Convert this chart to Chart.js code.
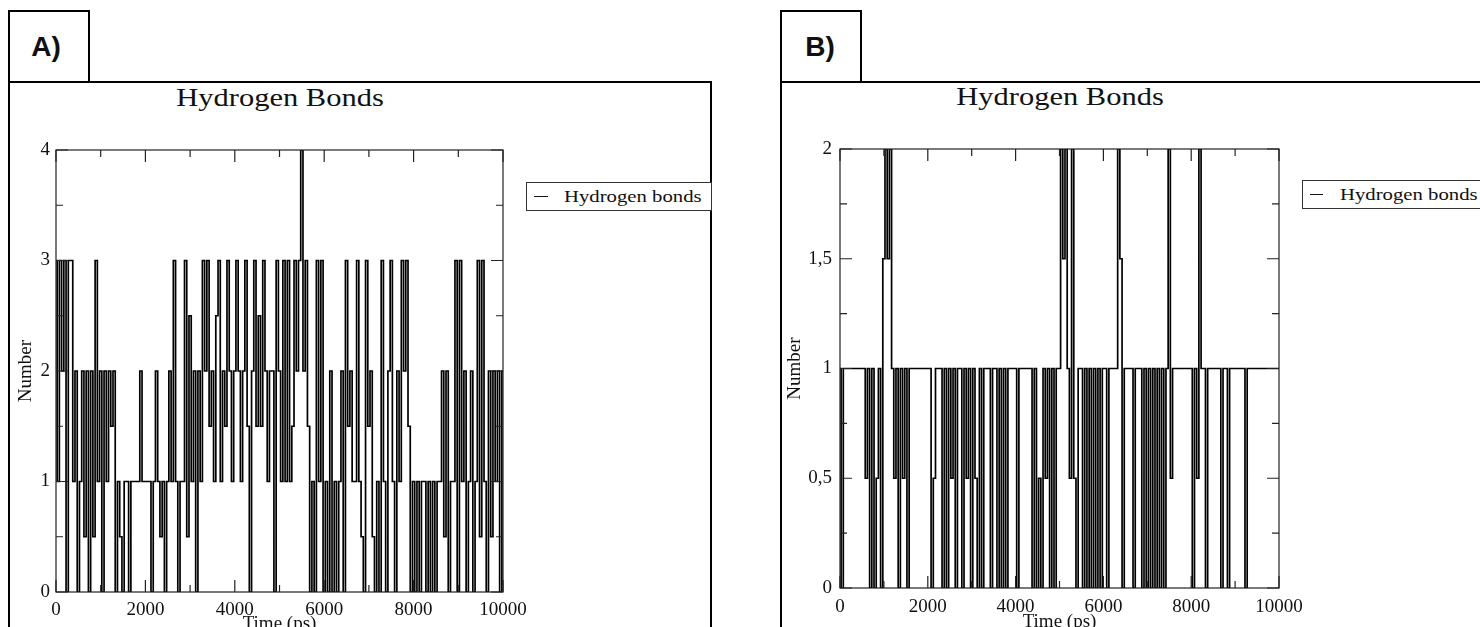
<!DOCTYPE html>
<html><head><meta charset="utf-8">
<script src="https://cdn.jsdelivr.net/npm/chart.js@4.4.1/dist/chart.umd.min.js"></script>
<style>
html,body{margin:0;padding:0;background:#fff;}
body{width:1480px;height:627px;overflow:hidden;position:relative;font-family:"Liberation Serif","Times New Roman",serif;color:#111;}
.frame{position:absolute;border:2px solid #000;box-sizing:border-box;}
.tag{position:absolute;border:2px solid #000;box-sizing:border-box;background:#fff;font-family:"Liberation Sans",Arial,sans-serif;font-weight:bold;font-size:28px;display:flex;align-items:center;justify-content:center;z-index:3;}
.title{position:absolute;font-size:25px;line-height:25px;white-space:nowrap;transform:translateX(-50%) scaleX(1.22);transform-origin:center;z-index:3;}
.legend{position:absolute;border:1px solid #333;box-sizing:border-box;background:#fff;z-index:3;}
.legline{position:absolute;height:0;border-top:1.5px solid #111;z-index:4;}
.legtext{position:absolute;font-size:17px;line-height:17px;white-space:nowrap;transform:scaleX(1.22);transform-origin:left center;z-index:4;}
canvas{position:absolute;z-index:2;}
</style></head>
<body>
<div class="frame" style="left:8px;top:81px;width:704px;height:700px"></div>
<div class="tag" style="left:8px;top:10px;width:82px;height:73px;padding-right:6px">A)</div>
<div class="title" style="left:280px;top:85px">Hydrogen Bonds</div>
<div class="legend" style="left:526px;top:182px;width:186px;height:29px"></div>
<div class="legline" style="left:534px;top:196px;width:14px"></div>
<div class="legtext" style="left:564px;top:188px">Hydrogen bonds</div>
<canvas id="cA" width="535" height="520" style="left:0px;top:120px"></canvas>

<div class="frame" style="left:780px;top:81px;width:760px;height:700px"></div>
<div class="tag" style="left:780px;top:10px;width:82px;height:73px;padding-right:2px">B)</div>
<div class="title" style="left:1060px;top:84px">Hydrogen Bonds</div>
<div class="legend" style="left:1302px;top:180px;width:200px;height:29px"></div>
<div class="legline" style="left:1310px;top:194px;width:13px"></div>
<div class="legtext" style="left:1340px;top:186px">Hydrogen bonds</div>
<canvas id="cB" width="545" height="520" style="left:770px;top:120px"></canvas>

<script>
// ---- data (number of hydrogen bonds, one reading every 50 ps, 0..10000 ps) ----
const timeStepPs = 50;
const bondsA = [
  3,1,3,2,3,0,3,3,1,2,
  0,1,2,0.5,2,0,2,0.5,3,1,
  2,0,2,1,2,1.5,2,0,1,0.5,
  0,1,1,0,1,1,1,1,2,1,
  1,1,1,0,1,2,1,0.5,1,0,
  1,2,1,3,1,0,1,1,3,0.5,
  2.5,1,2,0,2,1,3,2,3,1.5,
  2,1,2.5,3,1,2,1.5,3,2,1,
  2,3,2,1,2,3,1.5,0,2,3,
  1.5,2.5,1.5,3,2,1,2,2,0,3,
  2,1,3,1,3,1,1.5,3,2,3,
  4,2,3,1.5,0,1,0,3,1,3,
  0,1,0,2,0,1,0,1,2,0,
  3,1.5,2,1,1,3,1,0.5,0,3,
  1.5,2,0.5,0,1,0,3,1,0,2,
  3,1,0,2,1,3,2,3,1.5,0,
  1,0,1,0,1,1,0,1,0,1,
  0,1,1,2,0.5,2,0,1,1,3,
  0,3,1,2,0,1,2,0,1,3,
  0.5,3,1,0,2,0.5,2,1,2,0,
  2
];
const bondsB = [
  1,0,1,1,1,1,1,1,1,1,
  1,1,0.5,1,0,1,0,0.5,1,0,
  1.5,2,1.5,2,1,0.5,1,0,1,0.5,
  1,0,1,1,1,1,1,1,1,1,
  1,1,0,0.5,1,1,1,0,1,0,
  1,0.5,1,0,1,1,0,1,0.5,1,
  0,1,0.5,0,1,0,1,1,1,0,
  1,1,0,1,0,1,0,1,1,1,
  1,0,1,1,1,1,1,1,0,1,
  0,0.5,0,1,0.5,1,0,1,0,1,
  1,2,1.5,2,1,0.5,2,0.5,0,1,
  1,0,1,0,1,0,1,0,1,0,
  1,1,0,1,1,1,1,2,1.5,0,
  1,1,1,1,0,1,1,1,0,1,
  0,1,0,1,0,1,0,1,0,1,
  2,0.5,1,1,1,1,1,1,1,1,
  1,0,1,0.5,2,1,1,0,1,1,
  1,1,1,1,0,1,1,0,1,1,
  1,1,1,1,1,0,1,1,1,1,
  1,1,1,1,1,1,1,1,1,1,
  1
];
// ---- tick labels ----
const xTickLabels = [0, 2000, 4000, 6000, 8000, 10000];
const xMinorStep = 1000;
const yTickLabelsA = [0, 1, 2, 3, 4];
const yMinorStepA = 0.5;
const yTickLabelsB = [0, 0.5, 1, 1.5, 2];
const yMinorStepB = 0.25;

const has = (arr, v) => arr.some(a => Math.abs(a - v) < 1e-6);

const insideTicks = {
  id: 'insideTicks',
  afterDraw(chart, args, opts) {
    const {ctx, chartArea: a} = chart;
    const x = chart.scales.x, y = chart.scales.y;
    ctx.save();
    ctx.strokeStyle = '#222';
    ctx.lineWidth = 1.2;
    ctx.strokeRect(a.left, a.top, a.right - a.left, a.bottom - a.top);
    ctx.beginPath();
    x.ticks.forEach(t => {
      const px = x.getPixelForValue(t.value);
      const len = has(opts.xMajor, t.value) ? 12 : 7;
      ctx.moveTo(px, a.bottom); ctx.lineTo(px, a.bottom - len);
      ctx.moveTo(px, a.top); ctx.lineTo(px, a.top + len);
    });
    y.ticks.forEach(t => {
      const py = y.getPixelForValue(t.value);
      const len = has(opts.yMajor, t.value) ? 12 : 7;
      ctx.moveTo(a.left, py); ctx.lineTo(a.left + len, py);
      ctx.moveTo(a.right, py); ctx.lineTo(a.right - len, py);
    });
    ctx.stroke();
    ctx.restore();
  }
};

function makeChart(id, values, yMax, yLabels, yStep, fmt, geo) {
  const pts = values.map((v, i) => ({x: i * timeStepPs, y: v}));
  const tickFont = {family: 'Liberation Serif', size: 19};
  return new Chart(document.getElementById(id), {
    type: 'line',
    data: {datasets: [{
      label: 'Hydrogen bonds', data: pts, stepped: 'middle',
      borderColor: '#000', borderWidth: 1.7, pointRadius: 0, tension: 0, fill: false
    }]},
    options: {
      responsive: false, animation: false, devicePixelRatio: 1,
      layout: {padding: {left: 0, top: geo.top, right: geo.right, bottom: 0}},
      plugins: {legend: {display: false}, title: {display: false}, tooltip: {enabled: false},
        insideTicks: {xMajor: xTickLabels, yMajor: yLabels}},
      scales: {
        x: {
          type: 'linear', min: 0, max: 10000,
          grid: {display: false, drawTicks: false}, border: {display: false},
          ticks: {stepSize: xMinorStep, autoSkip: false, maxRotation: 0, padding: geo.xPad,
            color: '#111', font: tickFont,
            callback: v => has(xTickLabels, v) ? String(v) : ''},
          title: {display: true, text: 'Time (ps)', color: '#111', font: tickFont,
            padding: {top: 0, bottom: geo.xTitlePad}},
          afterFit: s => { s.height = geo.xH; }
        },
        y: {
          min: 0, max: yMax,
          grid: {display: false, drawTicks: false}, border: {display: false},
          ticks: {stepSize: yStep, autoSkip: false, padding: geo.yPad, color: '#111', font: tickFont,
            callback: v => has(yLabels, v) ? fmt(v) : ''},
          title: {display: true, text: 'Number', color: '#111', font: tickFont,
            padding: {top: geo.yTitlePad, bottom: 0}},
          afterFit: s => { s.width = geo.yW; }
        }
      }
    },
    plugins: [insideTicks]
  });
}

makeChart('cA', bondsA, 4, yTickLabelsA, yMinorStepA, v => String(v),
  {top: 30, right: 32, xH: 48, yW: 56, xPad: 7, yPad: 6, xTitlePad: 4.6, yTitlePad: 14.6});
makeChart('cB', bondsB, 2, yTickLabelsB, yMinorStepB, v => String(v).replace('.', ','),
  {top: 29, right: 36, xH: 52, yW: 70, xPad: 8, yPad: 8, xTitlePad: 6.6, yTitlePad: 13.6});
</script>
</body></html>
